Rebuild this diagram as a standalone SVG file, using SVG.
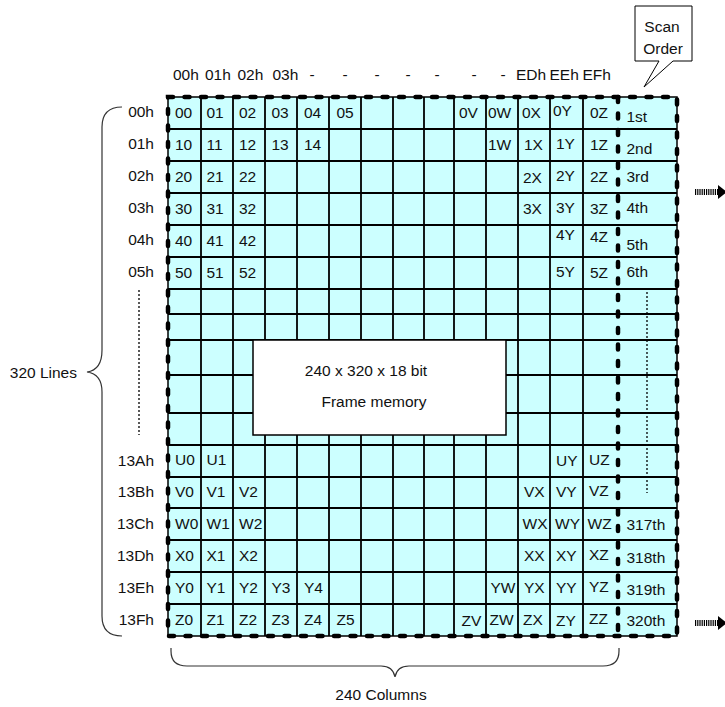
<svg xmlns="http://www.w3.org/2000/svg" width="725" height="707" viewBox="0 0 725 707">
<style>
.t{font-family:"Liberation Sans",Arial,sans-serif;font-size:15.5px;fill:#111}
.m{text-anchor:middle}
.e{text-anchor:end}
.grid{fill:none;stroke:#000;stroke-width:1.8}
.dash{fill:none;stroke:#000;stroke-width:4.5;stroke-linecap:round;stroke-dasharray:5 11.5}
.brace{fill:none;stroke:#333;stroke-width:1.2}
.dot{fill:none;stroke:#000;stroke-width:1.3;stroke-dasharray:2 2}
.arr{fill:none;stroke:#000;stroke-width:6;stroke-dasharray:1.2 1}
</style>
<rect width="725" height="707" fill="#fff"/>

<g id="frame-grid">
<rect x="168" y="97" width="509" height="539" fill="#CCFFFF" stroke="#000" stroke-width="1.5"/>
<path class="grid" d="M168,129H677M168,161H677M168,193H677M168,225H677M168,257H677M168,289H677M168,314H677M168,340H677M168,375H677M168,413H677M168,445H677M168,477H677M168,508H677M168,540H677M168,572H677M168,604H677
M201,97V636M233,97V636M265,97V636M297,97V636M329,97V636M361,97V636M393,97V636M424,97V636M454,97V636M486,97V636M518,97V636M550,97V636M583,97V636"/>
<rect class="dash" x="168" y="97" width="509" height="539"/>
<path class="dash" d="M618,97V636"/>
</g>

<g id="frame-memory">
<rect x="253" y="340" width="253" height="95" fill="#fff" stroke="#000" stroke-width="1.5"/>
<text class="t m" x="366" y="376">240 x 320 x 18 bit</text>
<text class="t m" x="374" y="407">Frame memory</text>
</g>

<g id="cells" class="t">
<text x="175" y="118">00</text><text x="206.5" y="118">01</text><text x="239" y="118">02</text><text x="271.5" y="118">03</text><text x="304" y="118">04</text><text x="336.5" y="118">05</text>
<text x="459" y="118">0V</text><text x="488" y="118">0W</text><text x="522" y="118">0X</text><text x="553" y="116">0Y</text><text x="590" y="118">0Z</text>
<text x="175" y="150">10</text><text x="206.5" y="150">11</text><text x="239" y="150">12</text><text x="271.5" y="150">13</text><text x="304" y="150">14</text>
<text x="488" y="150">1W</text><text x="524" y="150">1X</text><text x="556" y="149">1Y</text><text x="590" y="150">1Z</text>
<text x="175" y="182">20</text><text x="206.5" y="182">21</text><text x="239" y="182">22</text>
<text x="523" y="183">2X</text><text x="556" y="181">2Y</text><text x="590" y="182">2Z</text>
<text x="175" y="214">30</text><text x="206.5" y="214">31</text><text x="239" y="214">32</text>
<text x="523" y="214">3X</text><text x="556" y="213">3Y</text><text x="590" y="214">3Z</text>
<text x="175" y="246">40</text><text x="206.5" y="246">41</text><text x="239" y="246">42</text>
<text x="556" y="240">4Y</text><text x="590" y="242">4Z</text>
<text x="175" y="278">50</text><text x="206.5" y="278">51</text><text x="239" y="278">52</text>
<text x="556" y="277">5Y</text><text x="590" y="278">5Z</text>
<text x="175" y="465">U0</text><text x="206.5" y="465">U1</text>
<text x="556" y="466">UY</text><text x="589" y="465">UZ</text>
<text x="175" y="497">V0</text><text x="206.5" y="497">V1</text><text x="239" y="497">V2</text>
<text x="524" y="497">VX</text><text x="556" y="497">VY</text><text x="589" y="496">VZ</text>
<text x="175" y="529">W0</text><text x="206.5" y="529">W1</text><text x="239" y="529">W2</text>
<text x="522.5" y="529">WX</text><text x="555" y="529">WY</text><text x="587.5" y="529">WZ</text>
<text x="175" y="561">X0</text><text x="206.5" y="561">X1</text><text x="239" y="561">X2</text>
<text x="524" y="561">XX</text><text x="556" y="561">XY</text><text x="589" y="560">XZ</text>
<text x="175" y="593">Y0</text><text x="206.5" y="593">Y1</text><text x="239" y="593">Y2</text><text x="271.5" y="593">Y3</text><text x="304" y="593">Y4</text>
<text x="490.5" y="593">YW</text><text x="524" y="593">YX</text><text x="556" y="593">YY</text><text x="589" y="592">YZ</text>
<text x="175" y="625">Z0</text><text x="206.5" y="625">Z1</text><text x="239" y="625">Z2</text><text x="271.5" y="625">Z3</text><text x="304" y="625">Z4</text><text x="336.5" y="625">Z5</text>
<text x="461.5" y="626">ZV</text><text x="489.5" y="625">ZW</text><text x="523" y="625">ZX</text><text x="556" y="626">ZY</text><text x="589" y="624">ZZ</text>
</g>

<g id="scan-order-column" class="t">
<text x="626.5" y="122">1st</text>
<text x="626.5" y="154">2nd</text>
<text x="626.5" y="182">3rd</text>
<text x="626.5" y="213">4th</text>
<text x="626.5" y="250">5th</text>
<text x="626.5" y="277">6th</text>
<text x="626.5" y="530">317th</text>
<text x="626.5" y="563">318th</text>
<text x="626.5" y="595">319th</text>
<text x="626.5" y="626">320th</text>
<path class="dot" d="M647,292V493"/>
</g>

<g id="column-header" class="t">
<text x="173" y="80">00h</text><text x="205" y="80">01h</text><text x="237.5" y="80">02h</text><text x="272.5" y="80">03h</text>
<text class="m" x="312" y="80">-</text><text class="m" x="345" y="80">-</text><text class="m" x="377" y="80">-</text><text class="m" x="408" y="80">-</text><text class="m" x="437" y="80">-</text><text class="m" x="474" y="80">-</text><text class="m" x="503" y="80">-</text>
<text x="516" y="80">EDh</text><text x="549.5" y="80">EEh</text><text x="582.5" y="80">EFh</text>
</g>

<g id="row-header" class="t e">
<text x="154" y="117">00h</text>
<text x="154" y="149">01h</text>
<text x="154" y="181">02h</text>
<text x="154" y="213">03h</text>
<text x="154" y="245">04h</text>
<text x="154" y="277">05h</text>
<text x="154" y="466">13Ah</text>
<text x="154" y="497">13Bh</text>
<text x="154" y="529">13Ch</text>
<text x="154" y="561">13Dh</text>
<text x="154" y="593">13Eh</text>
<text x="154" y="625">13Fh</text>
<path class="dot" d="M139,290V435"/>
</g>

<g id="lines-brace">
<path class="brace" d="M122,107Q102,107 102,127L102,350Q102,370 87,372Q102,374 102,392L102,616Q102,636 122,636"/>
<text class="t e" x="77" y="378">320 Lines</text>
</g>

<g id="columns-brace">
<path class="brace" d="M171,648L171,651Q171,666 187,666L381,666Q393,666 395,677Q397,666 409,666L603,666Q619,666 619,651L619,648"/>
<text class="t m" x="381" y="700">240 Columns</text>
</g>

<g id="scan-order-callout">
<path d="M635,6H692V61H673L644,87L659,61H635Z" fill="#fff" stroke="#000" stroke-width="1"/>
<text class="t m" x="662" y="32">Scan</text>
<text class="t m" x="663" y="54">Order</text>
</g>

<g id="connectors">
<path class="arr" d="M695,192H719"/>
<path d="M718,185L727,192L718,199Z" fill="#000"/>
<path class="arr" d="M695,623H719"/>
<path d="M718,616L727,623L718,630Z" fill="#000"/>
</g>
</svg>
